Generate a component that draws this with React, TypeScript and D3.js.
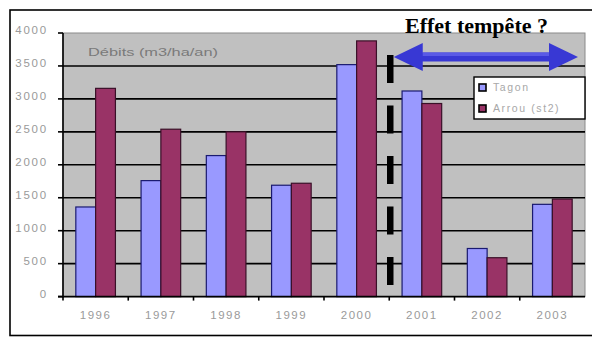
import React from "react";
import * as d3 from "d3";

// Annual discharge per watershed (m3/ha/an)
const years = ["1996", "1997", "1998", "1999", "2000", "2001", "2002", "2003"];
const tagon = [1360, 1760, 2140, 1690, 3520, 3120, 730, 1400];
const arrou = [3160, 2540, 2500, 1720, 3880, 2930, 590, 1480];
const seriesNames = ["Tagon", "Arrou (st2)"];
const yTicks = [0, 500, 1000, 1500, 2000, 2500, 3000, 3500, 4000];

const W = 592;
const H = 338;
const plot = { left: 63, right: 585, top: 33, bottom: 296.6 };

const colors = {
  tagon: "#9999ff",
  tagonStroke: "#1a1a70",
  arrou: "#993366",
  arrouStroke: "#3a1028",
  plotBg: "#c0c0c0",
  arrow: "#3838d4",
  arrowLight: "#5a5ae6",
  faint: "#9a9a9a",
};

export default function App() {
  const x = d3
    .scaleBand<string>()
    .domain(years)
    .range([plot.left, plot.right])
    .paddingInner(0)
    .paddingOuter(0);
  const y = d3.scaleLinear().domain([0, 4000]).range([plot.bottom, plot.top]);

  const band = x.bandwidth();
  const barW = 19.8;
  const groupW = barW * 2;
  const offset = (band - groupW) / 2;

  const series = [
    { name: seriesNames[0], values: tagon, fill: colors.tagon, stroke: colors.tagonStroke },
    { name: seriesNames[1], values: arrou, fill: colors.arrou, stroke: colors.arrouStroke },
  ];

  // storm marker sits on the boundary between 2000 and 2001
  const stormX = (x("2001") as number) + 1;
  const arrowY = 57;
  const arrowL = stormX + 3.5;
  const arrowR = 578;
  const headLen = 29;
  const headHalf = 14;
  const shaftHalf = 4.5;

  const arrowPath = [
    `M${arrowL},${arrowY}`,
    `L${arrowL + headLen},${arrowY - headHalf}`,
    `L${arrowL + headLen},${arrowY - shaftHalf}`,
    `L${arrowR - headLen},${arrowY - shaftHalf}`,
    `L${arrowR - headLen},${arrowY - headHalf}`,
    `L${arrowR},${arrowY}`,
    `L${arrowR - headLen},${arrowY + headHalf}`,
    `L${arrowR - headLen},${arrowY + shaftHalf}`,
    `L${arrowL + headLen},${arrowY + shaftHalf}`,
    `L${arrowL + headLen},${arrowY + headHalf}`,
    "Z",
  ].join(" ");

  const legend = { x: 474, y: 77, w: 111, h: 42 };

  return (
    <svg
      width={W}
      height={H}
      style={{ position: "absolute", left: 0, top: 0, display: "block", background: "#fff" }}
      fontFamily="Arial, 'Liberation Sans', sans-serif"
    >
      {/* chart frame */}
      <rect x={10} y={10} width={W} height={325.5} fill="#fff" stroke="#000" strokeWidth={1.6} />

      {/* plot background */}
      <rect
        x={plot.left}
        y={plot.top}
        width={plot.right - plot.left}
        height={plot.bottom - plot.top}
        fill={colors.plotBg}
        stroke="#8a8a8a"
        strokeWidth={1}
      />

      {/* gridlines */}
      {yTicks
        .filter((t) => t > 0 && t < 4000)
        .map((t) => (
          <line
            key={t}
            x1={plot.left}
            x2={plot.right}
            y1={y(t)}
            y2={y(t)}
            stroke="#000"
            strokeWidth={1.6}
          />
        ))}

      {/* axis title inside plot */}
      <text
        x={88}
        y={55.5}
        fontSize={11}
        fill="#7a7a7a"
        textLength={130}
        lengthAdjust="spacingAndGlyphs"
      >
        Débits (m3/ha/an)
      </text>

      {/* bars */}
      {series.map((s, si) =>
        s.values.map((v, i) => {
          const bx = (x(years[i]) as number) + offset + si * barW;
          return (
            <rect
              key={`${si}-${i}`}
              x={bx}
              y={y(v)}
              width={barW}
              height={plot.bottom - y(v)}
              fill={s.fill}
              stroke={s.stroke}
              strokeWidth={1.2}
            />
          );
        })
      )}

      {/* axes */}
      <line x1={plot.left} x2={plot.left} y1={plot.top} y2={plot.bottom + 1} stroke="#000" strokeWidth={1.6} />
      <line x1={plot.left - 5} x2={plot.right} y1={plot.bottom} y2={plot.bottom} stroke="#000" strokeWidth={1.6} />
      {yTicks.map((t) => (
        <line key={`yt${t}`} x1={plot.left - 5} x2={plot.left} y1={y(t)} y2={y(t)} stroke="#000" strokeWidth={1.6} />
      ))}
      {years.map((yr) => (
        <line
          key={`xt${yr}`}
          x1={x(yr) as number}
          x2={x(yr) as number}
          y1={plot.bottom}
          y2={plot.bottom + 4}
          stroke="#000"
          strokeWidth={1.6}
        />
      ))}

      {/* y tick labels */}
      {yTicks.map((t) => (
        <text
          key={`yl${t}`}
          x={48}
          y={y(t) - 3}
          dy="0.35em"
          textAnchor="end"
          fontSize={11.5}
          letterSpacing={1.8}
          fill={colors.faint}
        >
          {String(t)}
        </text>
      ))}

      {/* x tick labels */}
      {years.map((yr) => (
        <text
          key={`xl${yr}`}
          x={(x(yr) as number) + band / 2}
          y={319}
          textAnchor="middle"
          fontSize={11.5}
          letterSpacing={1.5}
          fill={colors.faint}
        >
          {yr}
        </text>
      ))}

      {/* storm boundary */}
      <line
        x1={stormX}
        x2={stormX}
        y1={55}
        y2={plot.bottom - 10}
        stroke="#000"
        strokeWidth={6.5}
        strokeDasharray="28 22.5"
      />

      {/* double arrow */}
      <path d={arrowPath} fill={colors.arrow} />
      <rect
        x={arrowL + headLen}
        y={arrowY - shaftHalf}
        width={arrowR - arrowL - 2 * headLen}
        height={3.5}
        fill={colors.arrowLight}
      />

      {/* annotation title */}
      <text
        x={405}
        y={33}
        fontFamily="'Liberation Serif', 'Times New Roman', serif"
        fontWeight="bold"
        fontSize={22}
        textLength={143}
        lengthAdjust="spacingAndGlyphs"
        fill="#000"
      >
        Effet tempête ?
      </text>

      {/* legend */}
      <g>
        <rect x={legend.x} y={legend.y} width={legend.w} height={legend.h} fill="#fff" stroke="#000" strokeWidth={1.4} />
        {series.map((s, i) => {
          const cy = legend.y + 10.5 + i * 21;
          return (
            <g key={s.name}>
              <rect x={legend.x + 5} y={cy - 3.5} width={7} height={7} fill={s.fill} stroke="#000" strokeWidth={1.6} />
              <text
                x={legend.x + 19}
                y={cy}
                dy="0.35em"
                fontSize={10.5}
                letterSpacing={1.6}
                fill="#a8a8a8"
              >
                {s.name}
              </text>
            </g>
          );
        })}
      </g>
    </svg>
  );
}
